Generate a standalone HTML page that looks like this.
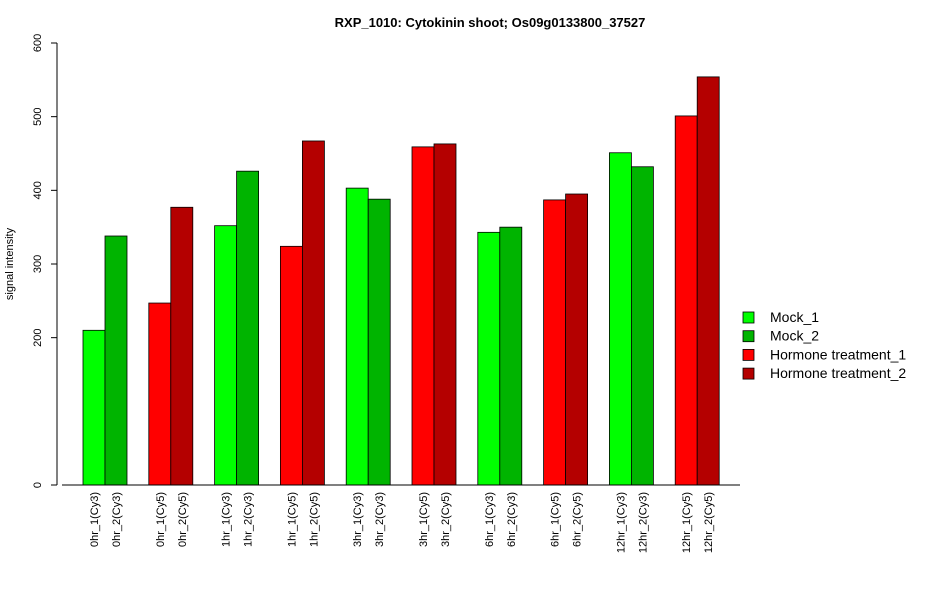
<!DOCTYPE html>
<html><head><meta charset="utf-8"><style>
body{margin:0;background:#fff;}
svg{display:block;font-family:"Liberation Sans",Arial,sans-serif;}
</style></head><body>
<svg id="chart" width="950" height="600">
<text x="490" y="27" text-anchor="middle" font-size="13" font-weight="bold">RXP_1010: Cytokinin shoot; Os09g0133800_37527</text>
<text transform="translate(13,264) rotate(-90)" text-anchor="middle" font-size="11">signal intensity</text>
<g id="yaxis"></g>
<g id="bars"></g>
<g id="xlabels"></g>
<line x1="62" y1="485" x2="740" y2="485" stroke="#000"/>
<g id="legend"></g>
</svg>
<script>
const categories=["0hr_1(Cy3)","0hr_2(Cy3)","0hr_1(Cy5)","0hr_2(Cy5)","1hr_1(Cy3)","1hr_2(Cy3)","1hr_1(Cy5)","1hr_2(Cy5)","3hr_1(Cy3)","3hr_2(Cy3)","3hr_1(Cy5)","3hr_2(Cy5)","6hr_1(Cy3)","6hr_2(Cy3)","6hr_1(Cy5)","6hr_2(Cy5)","12hr_1(Cy3)","12hr_2(Cy3)","12hr_1(Cy5)","12hr_2(Cy5)"];
const values=[210,338,247,377,352,426,324,467,403,388,459,463,343,350,387,395,451,432,501,554];
const seriesIndex=[0,1,2,3,0,1,2,3,0,1,2,3,0,1,2,3,0,1,2,3];
const seriesNames=["Mock_1","Mock_2","Hormone treatment_1","Hormone treatment_2"];
const yTicks=[0,200,300,400,500,600];
const colors=["#00ff00","#00b400","#ff0000","#b40000"];
const NS="http://www.w3.org/2000/svg";
function mk(tag,attrs,parent){const e=document.createElementNS(NS,tag);for(const k in attrs)e.setAttribute(k,attrs[k]);parent.appendChild(e);return e;}
const y0=485,yTop=43,yMax=600;
function ys(v){return y0-(v/yMax)*(y0-yTop);}
const barW=22,groupStep=65.8,x0=83;
function xs(i){const g=Math.floor(i/2);return x0+g*groupStep+(i%2)*barW;}
const ya=document.getElementById('yaxis');
const axl=mk('line',{x1:57,y1:ys(0),x2:57,y2:ys(600),stroke:'#000'},ya);


yTicks.forEach(t=>{
 const l=mk('line',{x1:51,x2:57,y1:ys(t),y2:ys(t),stroke:'#000'},ya);
 
 
 const tx=mk('text',{transform:`translate(41,${ys(t)}) rotate(-90)`,'text-anchor':'middle','font-size':11},ya);
 tx.textContent=t;
 
 
});
const bg=document.getElementById('bars'),xl=document.getElementById('xlabels');
values.forEach((v,i)=>{
 const r=mk('rect',{x:xs(i),y:ys(v),width:barW,height:ys(0)-ys(v),fill:colors[seriesIndex[i]],stroke:'#000','stroke-width':0.8},bg);
 
 
 const cx=xs(i)+barW/2+4;
 const t=mk('text',{transform:`translate(${cx},492) rotate(-90)`,'text-anchor':'end','font-size':11},xl);
 t.textContent=categories[i];
 
 
});
const lg=document.getElementById('legend');
seriesNames.forEach((n,i)=>{
 const y=312+i*18.7;
 const r=mk('rect',{x:743,y:y,width:11,height:11,fill:colors[i],stroke:'#000','stroke-width':0.8},lg);
 
 
 const t=mk('text',{x:770,y:y+10,'font-size':14},lg);
 t.textContent=n;
 
 
});
</script>
</body></html>
